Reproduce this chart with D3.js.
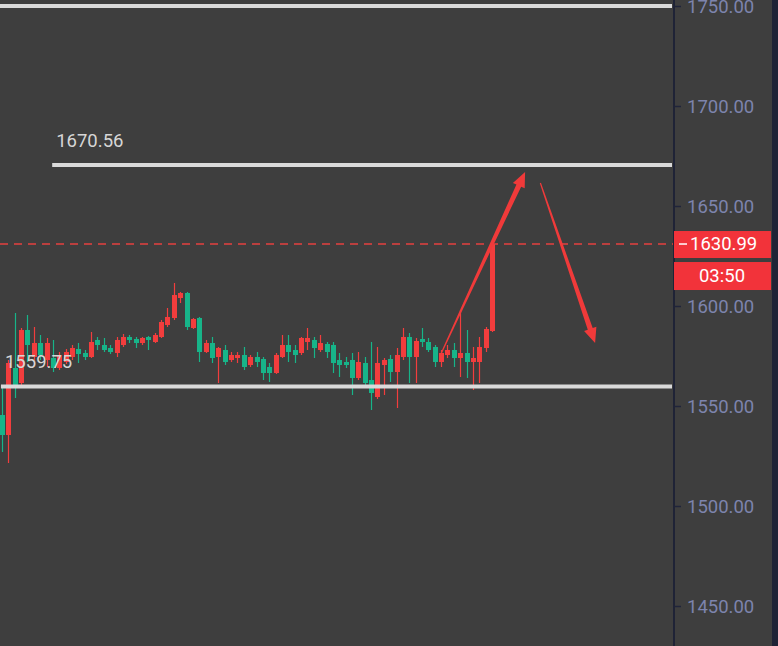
<!DOCTYPE html>
<html><head><meta charset="utf-8">
<script src="https://cdn.jsdelivr.net/npm/d3@7"></script>
<style>html,body{margin:0;padding:0;background:#3e3e3e;overflow:hidden}svg{display:block}</style>
</head><body>
<svg id="c" width="778" height="646"></svg>
<script>
// ---- data ----
const opens  = [1545.5,1535.5,1569,1561.5,1588,1574.5,1581.5,1573,1574,1569,1572,1574.5,1578.5,1576.5,1574.5,1583,1580.5,1579,1576.5,1580.5,1584.5,1583.5,1581.5,1584.5,1582,1584.5,1590.5,1594,1604,1606.5,1589,1594,1577,1581.5,1574.5,1578,1573,1574,1575.5,1570.5,1574.5,1573.5,1569.5,1566.5,1574.5,1580.5,1578,1576.5,1582,1583,1578,1581,1580.5,1573,1572,1573,1564,1571.5,1563,1554.5,1570.5,1573.5,1567,1574.5,1584.5,1574.5,1583.5,1582,1579.5,1572,1575.5,1578,1574,1576.5,1572,1572,1579,1587.5];
const closes = [1535.5,1571.5,1559.5,1588,1580.5,1581.5,1575.5,1581.5,1569,1575.5,1577,1579,1576,1574.5,1582,1580.5,1578,1577,1583,1584.5,1583,1581.5,1584,1583,1585.5,1592,1594.5,1605.5,1606.5,1589.5,1593.5,1577,1581.5,1574,1579,1572,1575.5,1575.5,1569.5,1574.5,1572,1566.5,1566.5,1575.5,1580.5,1577,1575.5,1584,1584,1579,1581.5,1577,1571.5,1570.5,1570.5,1564,1572,1561.5,1556.5,1571.5,1573,1567,1575.5,1584.5,1574.5,1582.5,1582,1578,1572,1576.5,1578,1574,1576.5,1572,1574,1579.5,1588.5,1630.99];
const highs  = [1559.5,1573,1596.5,1589,1595.5,1589.5,1585.5,1584,1583,1577,1578.5,1580.5,1581.5,1578,1587,1584.5,1584,1580.5,1584.5,1586,1585.5,1584.5,1584.5,1585,1586.5,1593,1599,1611.5,1607,1607,1594,1594.5,1583,1584.5,1579.5,1580.5,1577,1577,1579.5,1575.5,1577,1574.5,1571.5,1576.5,1585.5,1585.5,1580.5,1584.5,1589,1584.5,1585.5,1582,1582,1576.5,1574.5,1576.5,1577,1574.5,1582,1579.5,1574,1575.5,1579,1589,1586.5,1584,1589,1584,1580.5,1578,1580.5,1581.5,1598,1588,1579.5,1584.5,1589.5,1631];
const lows   = [1527,1521.5,1554,1560.5,1572,1569.5,1573,1569.5,1567,1568,1571,1573,1571.5,1573,1574,1578,1577,1576,1574.5,1579.5,1581.5,1579,1580.5,1578,1581.5,1584,1589.5,1593,1601.5,1588,1588.5,1572,1576.5,1571.5,1561.5,1570.5,1572,1571.5,1568,1569.5,1569.5,1563,1562,1566,1574,1572,1571.5,1575.5,1578,1574,1577,1574,1566.5,1564.5,1569,1555.5,1563,1560.5,1548,1553.5,1555.5,1562,1549,1573,1561.5,1561.5,1579.5,1577,1569.5,1569.5,1574,1569.5,1564.5,1564,1558,1561.5,1577,1587];
const priceTicks = [1450,1500,1550,1600,1650,1700,1750];
const levels = [
  {value:1750,   from:0,  label:null},
  {value:1670.56,from:8.2,label:"1670.56"},
  {value:1559.75,from:0.15,label:"1559.75"}
];
const lastPrice = 1630.99;
const countdown = "03:50";
// arrows in (candle index, price)
const arrowUp   = [[68.9,1575.5],[82.2,1667]];
const arrowDown = [[84.6,1661.5],[93.2,1581.5]];

// ---- drawing ----
const W=778,H=646, plotRight=673;
const svg=d3.select("#c");
const x=d3.scaleLinear().domain([0,opens.length-1]).range([2,492]);
const y=d3.scaleLinear().domain([1450,1750]).range([606,6]);
const RED="#f23d3d", GREEN="#17b489", BG="#3e3e3e";
const FONT="Roboto, 'Noto Sans', sans-serif";
const FS=18.5;

svg.append("rect").attr("width",W).attr("height",H).attr("fill",BG);
svg.append("rect").attr("x",772).attr("y",0).attr("width",6).attr("height",H).attr("fill","#1f2336");

// candles
const data=opens.map((o,i)=>({i,o,c:closes[i],h:highs[i],l:lows[i]}));
const g=svg.append("g");
const cg=g.selectAll("g.c").data(data).join("g").attr("class","c");
cg.append("line")
  .attr("x1",d=>Math.round(x(d.i))+0.5).attr("x2",d=>Math.round(x(d.i))+0.5)
  .attr("y1",d=>y(d.h)).attr("y2",d=>y(d.l))
  .attr("stroke",d=>d.c>=d.o?RED:GREEN).attr("stroke-width",1.2);
cg.append("rect")
  .attr("x",d=>Math.round(x(d.i))-2)
  .attr("width",5)
  .attr("y",d=>y(Math.max(d.o,d.c)))
  .attr("height",d=>Math.max(1.5,Math.abs(y(d.o)-y(d.c))))
  .attr("fill",d=>d.c>=d.o?RED:GREEN);

// horizontal levels
levels.forEach(l=>{
  svg.append("line").attr("x1",x(l.from)-2).attr("x2",plotRight-1)
    .attr("y1",y(l.value)).attr("y2",y(l.value))
    .attr("stroke","#dadada").attr("stroke-width",4);
  if(l.label){
    svg.append("text").attr("x",x(l.from)+2).attr("y",y(l.value)-23)
      .attr("fill","#d6d6d6").attr("font-family",FONT).attr("font-size",FS)
      .attr("dominant-baseline","middle").text(l.label);
  }
});

// dashed last price line
svg.append("line").attr("x1",0).attr("x2",plotRight).attr("y1",y(lastPrice)).attr("y2",y(lastPrice))
  .attr("stroke","#e5403f").attr("stroke-width",1.5).attr("stroke-dasharray","8,6");

// tapered arrows
function arrow(pts){
  const [a,b]=pts.map(p=>[x(p[0]),y(p[1])]);
  const dx=b[0]-a[0], dy=b[1]-a[1], len=Math.hypot(dx,dy);
  const ux=dx/len, uy=dy/len, nx=-uy, ny=ux;
  const headL=15, headW=6.5, w0=0.6, w1=2.6;
  const hb=[b[0]-ux*headL,b[1]-uy*headL];
  const poly=[
    [a[0]+nx*w0,a[1]+ny*w0],
    [hb[0]+nx*w1,hb[1]+ny*w1],
    [hb[0]+nx*headW,hb[1]+ny*headW],
    b,
    [hb[0]-nx*headW,hb[1]-ny*headW],
    [hb[0]-nx*w1,hb[1]-ny*w1],
    [a[0]-nx*w0,a[1]-ny*w0]
  ];
  svg.append("path").attr("d",d3.line()(poly)+"Z").attr("fill","#f03a3a");
}
arrow(arrowUp);
arrow(arrowDown);

// right axis
const axis=d3.axisRight(y).tickValues(priceTicks).tickFormat(d3.format(".2f")).tickSize(8).tickPadding(6);
const ag=svg.append("g").attr("transform",`translate(${plotRight},0)`).call(axis);
ag.select(".domain").remove();
ag.selectAll(".tick line").attr("stroke","#20243a").attr("stroke-width",1.5);
ag.selectAll(".tick text").attr("fill","#7d84ad").attr("font-family",FONT).attr("font-size",FS).attr("dy","0.36em");
svg.append("line").attr("x1",plotRight+1).attr("x2",plotRight+1).attr("y1",0).attr("y2",H)
  .attr("stroke","#1f2336").attr("stroke-width",2);

// last price box
const yp=y(lastPrice);
svg.append("rect").attr("x",plotRight+1).attr("y",yp-13).attr("width",97).attr("height",27).attr("fill","#f2333a");
svg.append("line").attr("x1",plotRight+6).attr("x2",plotRight+14).attr("y1",yp).attr("y2",yp).attr("stroke","#fff").attr("stroke-width",1.5);
svg.append("text").attr("x",plotRight+17).attr("y",yp+1).attr("dominant-baseline","middle")
  .attr("fill","#fff").attr("font-family",FONT).attr("font-size",FS).text(d3.format(".2f")(lastPrice));
svg.append("rect").attr("x",plotRight+1).attr("y",yp+18).attr("width",97).attr("height",28).attr("fill","#f2333a");
svg.append("text").attr("x",plotRight+49).attr("y",yp+33).attr("text-anchor","middle").attr("dominant-baseline","middle")
  .attr("fill","#fff").attr("font-family",FONT).attr("font-size",FS).text(countdown);
</script>
</body></html>
